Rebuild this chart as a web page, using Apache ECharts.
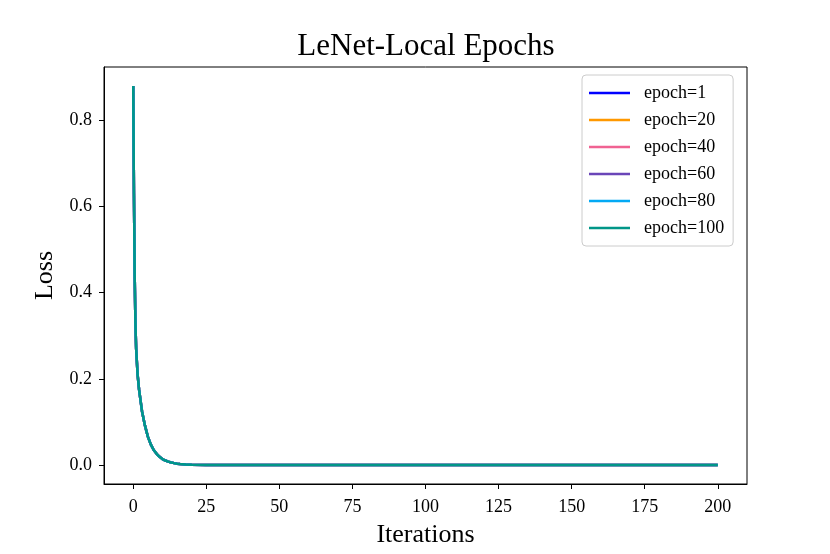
<!DOCTYPE html>
<html>
<head>
<meta charset="utf-8">
<script src="https://cdn.jsdelivr.net/npm/echarts@6/dist/echarts.min.js"></script>
<style>
  html, body { margin: 0; padding: 0; background: #fff; }
  #chart { width: 830px; height: 554px; }
</style>
</head>
<body>
<div id="chart"></div>
<script>
// 各 epoch 的曲线在图里完全重合，读出来是同一条
var epochNames = ['epoch=1', 'epoch=20', 'epoch=40', 'epoch=60', 'epoch=80', 'epoch=100'];
var epochColors = ['#0000ff', '#ff9800', '#f06292', '#6a45b8', '#03a9f4', '#009688'];

var iters = [0, 0.25, 0.5, 0.75, 1, 1.5, 2, 3, 4, 5, 6, 7, 8, 9, 10, 11, 12, 13, 14, 15, 16, 18, 20, 25, 50, 75, 100, 125, 150, 175, 200];
var loss  = [0.88, 0.63, 0.44, 0.33, 0.27, 0.21, 0.175, 0.125, 0.092, 0.066, 0.048, 0.035, 0.026, 0.019, 0.014, 0.0105, 0.008, 0.006, 0.0045, 0.0032, 0.0023, 0.0012, 0.0006, 0.0002, 0.0001, 0.0001, 0.0001, 0.0001, 0.0001, 0.0001, 0.0001];

var xTicks = [0, 25, 50, 75, 100, 125, 150, 175, 200];
var yTicks = [0, 0.2, 0.4, 0.6, 0.8];

var serif = "'Liberation Serif', 'Times New Roman', serif";

var points = iters.map(function (x, i) { return [x, loss[i]]; });

var seriesList = epochNames.map(function (name, i) {
  return {
    name: name,
    type: 'line',
    data: points,
    symbol: 'none',
    showSymbol: false,
    z: 2 + i,
    color: epochColors[i],
    lineStyle: { width: 2.5, color: epochColors[i] }
  };
});

var chart = echarts.init(document.getElementById('chart'));
chart.setOption({
  animation: false,
  backgroundColor: '#fff',
  title: {
    text: 'LeNet-Local Epochs',
    left: 421,
    textAlign: 'center',
    top: 26,
    textStyle: { fontFamily: serif, fontSize: 31, fontWeight: 'normal', color: '#000' }
  },
  grid: {
    left: 104, right: 83, top: 67, bottom: 70,
    show: true, borderColor: '#000', borderWidth: 1, backgroundColor: 'transparent'
  },
  legend: {
    orient: 'vertical',
    left: 582,
    top: 75,
    padding: [8, 9, 8, 7],
    icon: 'rect',
    itemWidth: 41,
    itemHeight: 2.5,
    itemGap: 7,
    borderColor: '#cccccc',
    borderWidth: 1,
    borderRadius: 4,
    backgroundColor: 'rgba(255,255,255,0.8)',
    textStyle: { fontFamily: serif, fontSize: 18, lineHeight: 20, color: '#000', padding: [0, 0, 0, 9] },
    data: epochNames
  },
  xAxis: {
    type: 'value',
    min: -10,
    max: 210,
    name: 'Iterations',
    nameLocation: 'middle',
    nameGap: 38,
    nameTextStyle: { fontFamily: serif, fontSize: 26, color: '#000' },
    axisLine: { show: true, onZero: false, lineStyle: { color: '#000', width: 1 } },
    axisTick: { show: true, length: 5, lineStyle: { color: '#000' }, customValues: xTicks },
    axisLabel: { fontFamily: serif, fontSize: 18, color: '#000', margin: 14, customValues: xTicks },
    splitLine: { show: false }
  },
  yAxis: {
    type: 'value',
    min: -0.044,
    max: 0.924,
    name: 'Loss',
    nameLocation: 'middle',
    nameGap: 46,
    nameTextStyle: { fontFamily: serif, fontSize: 26, color: '#000' },
    axisLine: { show: true, onZero: false, lineStyle: { color: '#000', width: 1 } },
    axisTick: { show: true, length: 5, lineStyle: { color: '#000' }, customValues: yTicks },
    axisLabel: {
      fontFamily: serif, fontSize: 18, color: '#000', margin: 12, customValues: yTicks,
      formatter: function (v) { return v.toFixed(1); }
    },
    splitLine: { show: false }
  },
  series: seriesList
});
</script>
</body>
</html>
